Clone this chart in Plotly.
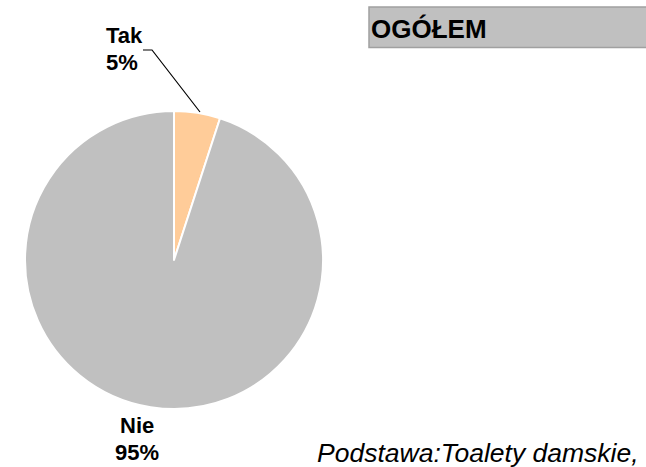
import plotly.graph_objects as go

W, H = 646, 467

categories = ["Tak", "Nie"]
values = [5, 95]
pct_labels = ["5%", "95%"]
colors = ["#FFCC99", "#C0C0C0"]
title_text = "OGÓŁEM"
footer_text = "Podstawa:Toalety damskie,"


def px(x):
    return x / W


def py(y):
    return 1 - y / H


cx, cy, r = 174, 260, 149

fig = go.Figure(go.Pie(
    labels=categories,
    values=values,
    marker=dict(colors=colors, line=dict(color="white", width=2)),
    sort=False,
    direction="clockwise",
    rotation=0,
    textinfo="none",
    hoverinfo="label+percent",
    showlegend=False,
    domain=dict(x=[px(cx - r), px(cx + r)], y=[py(cy + r), py(cy - r)]),
))

FAM = "Liberation Sans, Arial, sans-serif"
font_b = dict(family=FAM, size=22, color="black")

annotations = [
    dict(x=px(104), y=py(35), text="<b>%s</b>" % categories[0], xanchor="left"),
    dict(x=px(104), y=py(62), text="<b>%s</b>" % pct_labels[0], xanchor="left"),
    dict(x=px(137), y=py(425), text="<b>%s</b>" % categories[1], xanchor="center"),
    dict(x=px(137), y=py(452), text="<b>%s</b>" % pct_labels[1], xanchor="center"),
]
for a in annotations:
    a.update(xref="paper", yref="paper", showarrow=False, font=font_b,
             yanchor="middle")

annotations.append(dict(
    x=px(369), y=py(29), xref="paper", yref="paper", showarrow=False,
    text="<b>%s</b>" % title_text, xanchor="left", yanchor="middle",
    font=dict(family=FAM, size=26, color="black"),
))
annotations.append(dict(
    x=px(315), y=py(453), xref="paper", yref="paper", showarrow=False,
    text="<i>%s</i>" % footer_text, xanchor="left", yanchor="middle",
    font=dict(family=FAM, size=26.5, color="black"),
))

shapes = [
    dict(type="rect", xref="paper", yref="paper",
         x0=px(369), x1=px(660), y0=py(47.5), y1=py(7),
         fillcolor="#C0C0C0", line=dict(color="#A0A0A0", width=1.5), layer="below"),
    dict(type="path", xref="paper", yref="paper",
         path="M %f %f L %f %f L %f %f" % (px(143), py(50), px(152), py(50), px(200), py(112)),
         line=dict(color="black", width=1.2)),
]

fig.update_layout(
    width=W, height=H,
    margin=dict(l=0, r=0, t=0, b=0),
    paper_bgcolor="white",
    plot_bgcolor="white",
    annotations=annotations,
    shapes=shapes,
)

fig.write_html("out.html", config={"displayModeBar": False},
               post_script="document.body.style.margin='0';")
